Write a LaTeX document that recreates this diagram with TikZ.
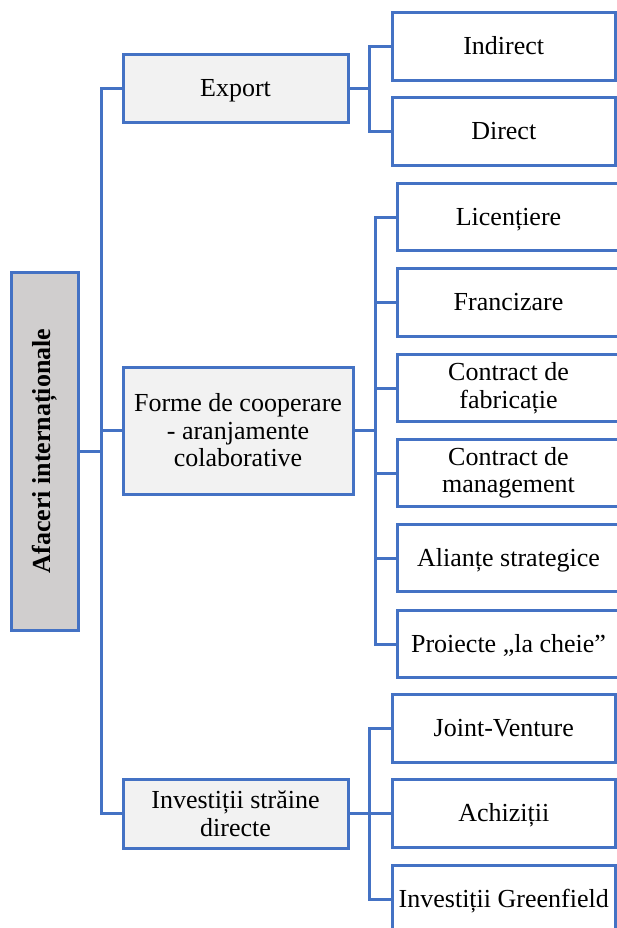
\documentclass[tikz,border=0pt]{standalone}
\usepackage{fontspec}
\setmainfont{Liberation Serif}
\usetikzlibrary{positioning}

\definecolor{boxblue}{HTML}{4472C4}
\definecolor{rootgray}{HTML}{D0CECE}
\definecolor{midgray}{HTML}{F2F2F2}

\tikzset{
  box/.style={draw=boxblue, line width=3pt, align=center, inner sep=0pt, font=\fontsize{26}{27.5}\selectfont},
  oneline/.style={text height=22pt, text depth=6pt},
  twoline/.style={},
  rootbox/.style={box, fill=rootgray, minimum width=67pt, minimum height=358pt},
  midbox/.style={box, fill=midgray},
  leafbox/.style={box, fill=white, minimum width=223pt, minimum height=67.5pt},
  link/.style={draw=boxblue, line width=3pt}
}

\begin{document}
\begin{tikzpicture}[x=1pt, y=-1pt]
    \useasboundingbox (0,0) rectangle (617,928);

    % Root box
    \node[rootbox] (afaceri) at (44.5,451) {\rotatebox{90}{\bfseries Afaceri internaționale}};

    % Middle level
    \node[midbox, oneline, minimum width=225pt, minimum height=68pt] (export) at (235.5,89) {Export};
    \node[midbox, minimum width=230pt, minimum height=127pt] (forme) at (238,430.5) {Forme de cooperare\\- aranjamente\\colaborative};
    \node[midbox, minimum width=225pt, minimum height=69pt] (isd) at (235.5,813.5) {Investiții străine\\directe};

    % Trunk
    \coordinate (trunk) at (101,451);
    \draw[link] (afaceri.east) -- (trunk);
    \draw[link] (export.west) -| (trunk) |- (isd.west);
    \draw[link] (forme.west) -- (forme.west -| trunk);

    % Export leaves
    \coordinate (ebus) at (369,89);
    \draw[link] (export.east) -- (ebus);
    \foreach \name/\y/\txt in {indirect/46.5/Indirect, direct/131.5/Direct} {
      \node[leafbox, oneline] (\name) at (503.75,\y) {\txt};
      \draw[link] (ebus) |- (\name.west);
    }

    % Cooperation leaves
    \coordinate (fbus) at (375,430.5);
    \draw[link] (forme.east) -- (fbus);
    \foreach \name/\y/\lines/\txt in {lic/217/oneline/Licențiere, fran/302.5/oneline/Francizare, fab/388/twoline/Contract de\\fabricație, man/473/twoline/Contract de\\management, alia/558/oneline/Alianțe strategice, cheie/644/oneline/Proiecte „la cheie”} {
      \node[leafbox, \lines] (\name) at (508.5,\y) {\txt};
      \draw[link] (fbus) |- (\name.west);
    }

    % FDI leaves
    \coordinate (ibus) at (369,813.5);
    \draw[link] (isd.east) -- (ibus);
    \foreach \name/\y/\txt in {joint/728.5/Joint-Venture, achiz/813.5/Achiziții, green/899/Investiții Greenfield} {
      \node[leafbox, oneline] (\name) at (503.75,\y) {\txt};
      \draw[link] (ibus) |- (\name.west);
    }

\end{tikzpicture}
\end{document}
